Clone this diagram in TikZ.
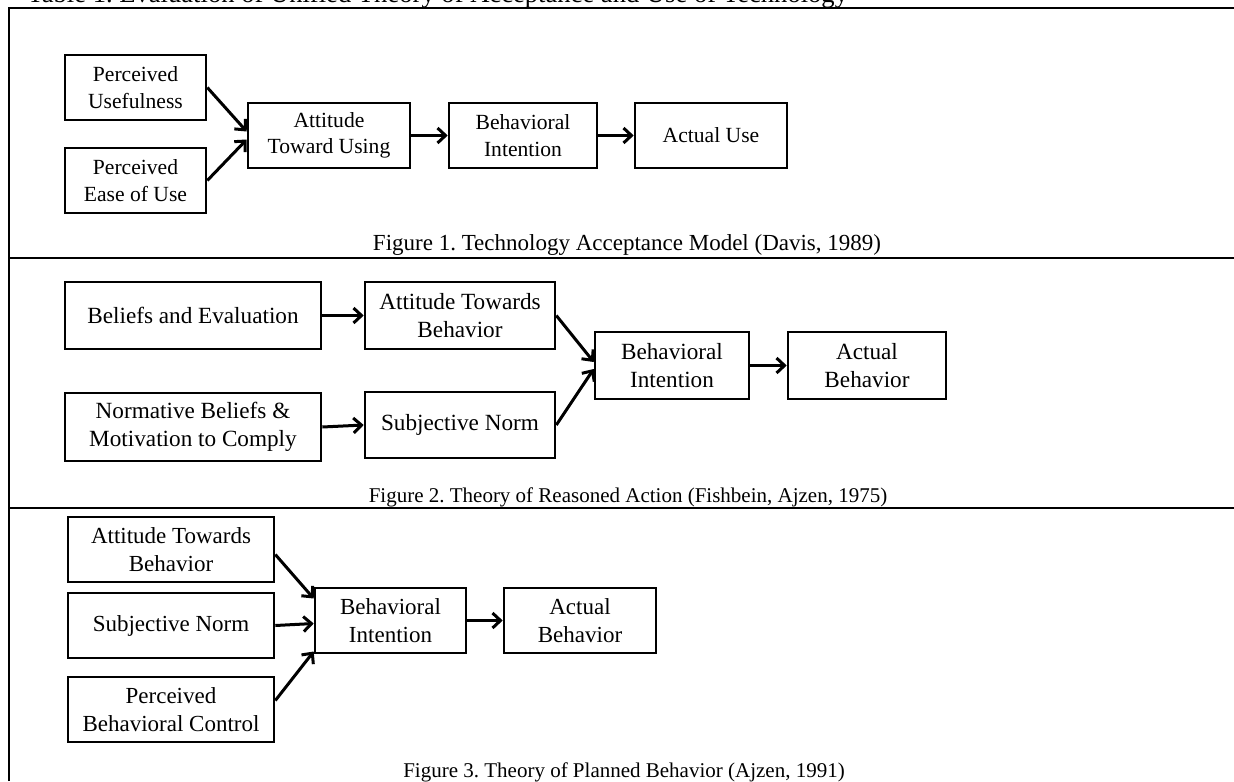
\documentclass[tikz,border=0pt]{standalone}
\usepackage{fontspec}
\setmainfont{Liberation Serif}
\usetikzlibrary{arrows.meta,calc}
\frenchspacing
\begin{document}
\begin{tikzpicture}[x=0.5pt,y=-0.5pt,
  bx/.style 2 args={draw, line width=1.3pt, align=center, inner sep=0pt,
    minimum width=#1*0.5pt, minimum height=#2*0.5pt},
  fa/.style={font=\fontsize{10.8}{13.3}\selectfont},
  fb/.style={font=\fontsize{11.6}{14}\selectfont},
  fc/.style={font=\fontsize{11.5}{13.8}\selectfont},
  figcap/.style={font=\fontsize{10.5}{12.5}\selectfont, anchor=base, inner sep=0pt},
  arr/.style={line width=1.5pt, -{Straight Barb[length=4pt,width=7.5pt]}},
  tabframe/.style={line width=1.3pt},
  tabrule/.style={line width=1.1pt}
]
\useasboundingbox (0,0) rectangle (1234,781);

% table heading, running off the top of the page
\node[anchor=base west, inner sep=0pt, font=\fontsize{13.3}{15}\selectfont] (title) at (27,3)
  {Table 1. Evaluation of Unified Theory of Acceptance and Use of Technology};

% table frame and row rules
\draw[tabframe] (9,781) -- (9,8) -- (1234,8);
\draw[tabrule] (9,258) -- (1234,258);
\draw[tabrule] (9,508) -- (1234,508);

% ---- Technology Acceptance Model ----
\node[bx={141}{65}, fa] (PU)  at (135.5,87.5)  {Perceived\\Usefulness};
\node[bx={141}{65}, fa] (PEU) at (135.5,180.5) {Perceived\\Ease of Use};
\node[bx={162}{65}, fa] (ATU) at (329,135.5)   {Attitude\\Toward Using};
\node[bx={148}{65}, fa] (BI1) at (523,135.5)   {Behavioral\\Intention};
\node[bx={152}{65}, fa] (AU)  at (711,135.5)   {Actual Use};
\draw[arr] (PU.east)  -- ($(ATU.west)+(0,-4)$);
\draw[arr] (PEU.east) -- ($(ATU.west)+(0,4)$);
\draw[arr] (ATU) -- (BI1);
\draw[arr] (BI1) -- (AU);
\node[figcap, font=\fontsize{11.5}{13.5}\selectfont] (cap1) at (627,250)
  {Figure 1. Technology Acceptance Model (Davis, 1989)};

% ---- Theory of Reasoned Action ----
\node[bx={256}{67}, fb] (BE)  at (193,315.5) {Beliefs and Evaluation};
\node[bx={256}{68}, fb] (NB)  at (193,427)   {Normative Beliefs \&\\Motivation to Comply};
\node[bx={190}{67}, fb] (ATB) at (460,315.5) {Attitude Towards\\Behavior};
\node[bx={190}{66}, fb] (SN)  at (460,425)   {Subjective Norm};
\node[bx={154}{67}, fb] (BI2) at (672,365.5) {Behavioral\\Intention};
\node[bx={158}{67}, fb] (AB2) at (867,365.5) {Actual\\Behavior};
\draw[arr] (BE) -- (ATB);
\draw[arr] (NB.east) -- (SN.west);
\draw[arr] (ATB.east) -- ($(BI2.west)+(0,-3.5)$);
\draw[arr] (SN.east)  -- ($(BI2.west)+(0,3.5)$);
\draw[arr] (BI2) -- (AB2);
\node[figcap] (cap2) at (628,502) {Figure 2. Theory of Reasoned Action (Fishbein, Ajzen, 1975)};

% ---- Theory of Planned Behavior ----
\node[bx={206}{65}, fc] (ATB3) at (171,549.5) {Attitude Towards\\Behavior};
\node[bx={206}{65}, fc] (SN3)  at (171,625.5) {Subjective Norm};
\node[bx={206}{65}, fc] (PBC)  at (171,709.5) {Perceived\\Behavioral Control};
\node[bx={151}{65}, fc] (BI3)  at (390.5,620.5) {Behavioral\\Intention};
\node[bx={152}{65}, fc] (AB3)  at (580,620.5)   {Actual\\Behavior};
\draw[arr] ($(ATB3.east)+(0,5)$) -- ($(BI3.west)+(0,-22)$);
\draw[arr] (SN3.east) -- ($(BI3.west)+(0,3)$);
\draw[arr] ($(PBC.east)+(0,-9)$) -- ($(BI3.west)+(0,31)$);
\draw[arr] (BI3) -- (AB3);
\node[figcap] (cap3) at (624,777) {Figure 3. Theory of Planned Behavior (Ajzen, 1991)};
\end{tikzpicture}
\end{document}
